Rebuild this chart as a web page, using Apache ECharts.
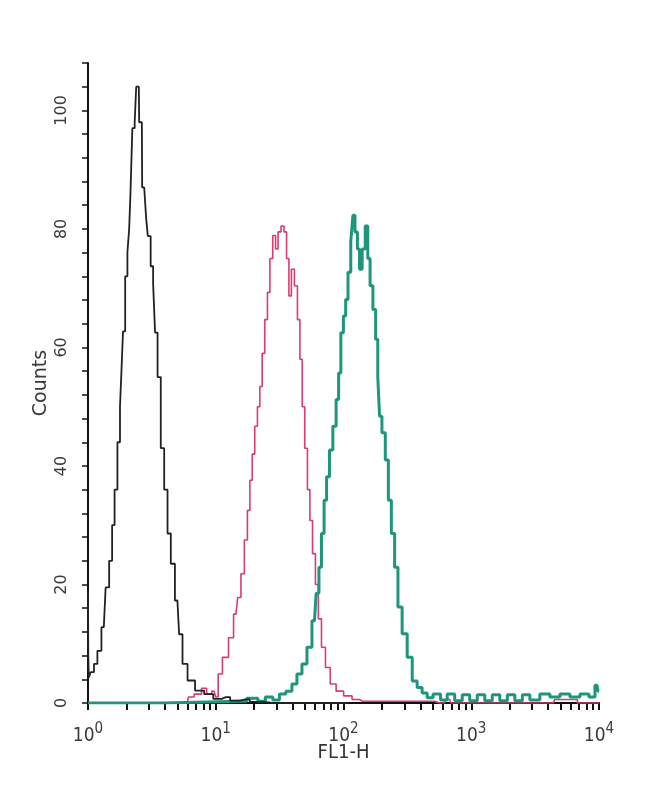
<!DOCTYPE html>
<html>
<head>
<meta charset="utf-8">
<script src="https://cdn.jsdelivr.net/npm/echarts@6/dist/echarts.min.js"></script>
<style>
html,body{margin:0;padding:0;background:#fff;}
#chart{width:650px;height:800px;}
</style>
</head>
<body>
<div id="chart"></div>
<script>
// FL1-H channel positions and counts
const blackFL = [1.00,1.01,1.02,1.08,1.15,1.22,1.33,1.42,1.51,1.58,1.65,1.75,1.81,1.84,1.92,1.99,2.08,2.12,2.18,2.27,2.37,2.40,2.50,2.53,2.64,2.67,2.84,2.87,3.01,3.18,3.29,3.41,3.60,3.83,4.07,4.32,4.58,5.01,5.33,5.66,6.39,7.42,8.89,10.3,12.0,14.0,17.0,20.0,28.0,110];
const blackCounts = [19,8,4.3,5.2,6.6,8.8,12.8,19.5,24,30,36,44,50,55.7,62.7,72,76,80,86,97,98,104,104,98,98,87,87,81.7,78.8,73.7,70.7,62.5,55,43,36,28.6,23.5,17.3,11.6,6.6,3.8,2.1,1.5,0.7,1.0,0.4,0.6,0.2,0,0];

const pinkFL = [1,6.0,6.2,7.4,8.1,8.9,9.7,10.3,10.6,12.0,13.2,14.4,15.3,16.2,17.3,18.1,18.9,19.7,20.7,21.7,22.6,23.6,24.8,26.0,27.1,28.8,30.0,31.5,33.4,35.1,36.6,38.2,40.0,42.6,44.6,46.6,48.5,51.0,53.4,55.8,58.7,61.9,65.2,69.3,75.3,82.4,93.0,108,126,141,473,566,680,700,4400,4600,10000];
const pinkCounts = [0,0,1,1.5,2.5,1.5,2,1,4.9,7.7,11,15,17.8,21.8,27.5,32.5,37.6,42,46.7,50,53.4,59,64.7,69.3,75,78.9,76.6,79.5,80.5,79.5,75,68.7,73.2,70.4,64.7,58,50,43,36,30.8,25.2,20,14.2,9.4,6,3.2,2,1.2,0.6,0.3,0.3,0,0.6,0,0,0.6,0];

const greenFL = [1,15.3,20.0,22.8,26.2,29.9,33.2,37.7,41.3,45.2,49.5,54.1,59.3,62.9,65.6,68.8,72.2,75.3,80.1,85.0,90.2,93.0,97.7,102,106,111,117,120,126,131,136,144,152,158,165,175,182,189,194,206,219,230,244,259,275,301,330,361,394,432,473,534,620,678,813,889,1065,1166,1396,1528,1832,2004,2401,2628,3148,3770,4519,5411,6486,7764,8970,9645,10000];
const greenCounts = [0,0.3,0.8,0.3,1,0.5,1.5,2,3.2,4.9,6.6,9.4,13.9,18.5,22.9,28.6,34.2,38.2,42.7,46.7,51.2,55.7,62.5,65.3,68.1,72.7,77.8,82.3,79.5,76.6,73.2,76.6,80.5,75,70.4,66.4,61.4,55.1,48.4,45.6,41,34.2,28.6,22.9,16.2,11.7,7.7,3.7,2.6,1.7,0.9,1.5,0.5,1.5,0.4,1.4,0.4,1.4,0.4,1.4,0.4,1.4,0.4,1.4,0.5,1.5,1,1.5,1,1.5,1,3,2];

const xMajorTicks = [1,10,100,1000,10000];
const xMinorTicks = [1,2,3,4,5,6,7,8,9,10,20,30,40,50,60,70,80,90,100,200,300,400,500,600,700,800,900,1000,2000,3000,4000,5000,6000,7000,8000,9000,10000];
const yLabelValues = [0,20,40,60,80,100];

function pairs(xs, ys){ return xs.map((x,i)=>[x, ys[i]]); }

const chart = echarts.init(document.getElementById('chart'), null, {renderer:'canvas'});
const condensed = "'DejaVu Sans Condensed','Liberation Sans Narrow','Liberation Sans',sans-serif";
const txt = '#3a3a3a';
chart.setOption({
  animation: false,
  backgroundColor: '#ffffff',
  grid: {left: 88, right: 51, top: 63, bottom: 97, containLabel: false},
  xAxis: [{
    type: 'log', logBase: 10, min: 1, max: 10000,
    name: 'FL1-H', nameLocation: 'middle', nameGap: 40, nameMoveOverlap: false,
    nameTextStyle: {fontFamily: condensed, fontSize: 20, color: '#333', verticalAlign: 'top'},
    axisLine: {show: true, lineStyle: {color: '#111', width: 2}},
    axisTick: {show: false},
    splitLine: {show: false},
    axisLabel: {
      customValues: xMajorTicks, margin: 19,
      formatter: function(v){ return '{b|10}{s|' + Math.round(Math.log10(v)) + '}'; },
      rich: {
        b: {fontFamily: condensed, fontSize: 19, color: txt, verticalAlign: 'bottom', lineHeight: 24},
        s: {fontFamily: condensed, fontSize: 15, color: txt, verticalAlign: 'top', lineHeight: 24}
      }
    }
  }, {
    type: 'value', min: 0, max: 4, position: 'bottom',
    axisLine: {show: false},
    axisLabel: {show: false},
    splitLine: {show: false},
    axisTick: {show: true, length: 7, lineStyle: {color: '#111', width: 2},
      customValues: xMinorTicks.map(v => Math.log10(v))}
  }],
  yAxis: {
    type: 'value', min: 0, max: 108, interval: 4,
    name: 'Counts', nameLocation: 'middle', nameGap: 37, nameMoveOverlap: false,
    nameTextStyle: {fontFamily: "'DejaVu Sans',sans-serif", fontSize: 19, color: txt},
    axisLine: {show: true, lineStyle: {color: '#111', width: 2}},
    axisTick: {show: true, length: 6, lineStyle: {color: '#111', width: 1.5}},
    splitLine: {show: false},
    axisLabel: {
      rotate: 90, margin: 18,
      fontFamily: "'DejaVu Sans',sans-serif", fontSize: 16, color: txt,
      formatter: function(v){ return yLabelValues.indexOf(v) >= 0 ? String(v) : ''; }
    }
  },
  series: [
    {type: 'line', xAxisIndex: 0, data: pairs(pinkFL, pinkCounts), step: 'middle', showSymbol: false, lineStyle: {color: '#d83c72', width: 1.6}, z: 3},
    {type: 'line', xAxisIndex: 0, data: pairs(greenFL, greenCounts), step: 'middle', showSymbol: false, lineStyle: {color: '#1d967c', width: 3}, z: 4},
    {type: 'line', xAxisIndex: 0, data: pairs(blackFL, blackCounts), step: 'middle', showSymbol: false, lineStyle: {color: '#222', width: 1.8}, z: 5}
  ]
});
</script>
</body>
</html>
